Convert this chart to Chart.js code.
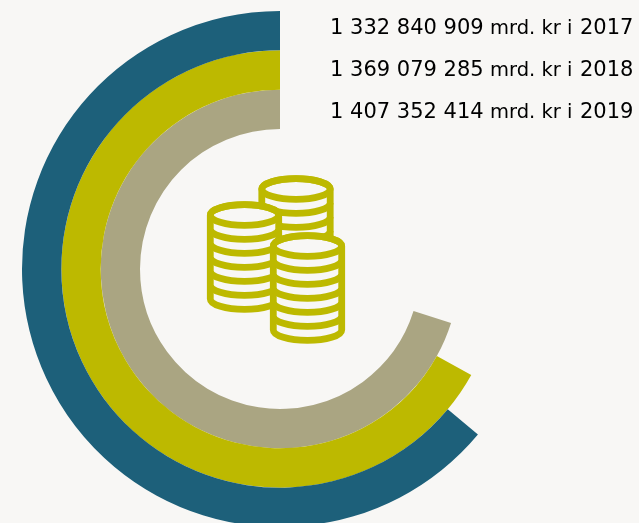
<!DOCTYPE html>
<html><head><meta charset="utf-8">
<style>html,body{margin:0;padding:0;background:#f8f7f5;overflow:hidden;width:639px;height:523px}
#w{position:relative;width:639px;height:538px}</style>
<script src="https://cdn.jsdelivr.net/npm/chart.js@4"></script></head>
<body><div id="w"><canvas id="c" width="639" height="538"></canvas></div>
<script>
const years=['2017','2018','2019'];
const amounts=['1 332 840 909','1 369 079 285','1 407 352 414'];
const unit='mrd. kr i';
// swept angle of each ring in degrees
const sweepDegrees=[230.1,241,252.5];
const ringColors=['#1d607a','#bdb900','#aaa582'];
const coinColor='#bdb900';
const coinFace='#f8f7f5';

function stack(ctx,cx,cy,n){
  const rx=34.2,ry=10.4,st=14,by=cy+n*st;
  ctx.beginPath();
  ctx.ellipse(cx,cy,rx,ry,0,Math.PI,2*Math.PI);
  ctx.lineTo(cx+rx,by);
  ctx.ellipse(cx,by,rx,ry,0,0,Math.PI);
  ctx.closePath();
  ctx.fillStyle=coinFace;ctx.fill();ctx.stroke();
  ctx.beginPath();ctx.ellipse(cx,cy,rx,ry,0,0,2*Math.PI);ctx.stroke();
  for(let k=1;k<n;k++){
    ctx.beginPath();ctx.ellipse(cx,cy+k*st,rx,ry,0,0,Math.PI);ctx.stroke();
  }
}
const decor={id:'decor',afterDraw(ch){
  const ctx=ch.ctx;ctx.save();
  ctx.strokeStyle=coinColor;ctx.lineWidth=6.8;
  stack(ctx,296,189,4);
  stack(ctx,244.5,215,6);
  stack(ctx,307.5,246,6);
  ctx.fillStyle='#000000';
  ctx.textBaseline='alphabetic';
  years.forEach((y,i)=>{
    const b=34.2+i*41.9;
    ctx.font='21px "DejaVu Sans"';
    ctx.fillText(amounts[i],330,b);
    ctx.fillText(y,580,b);
    ctx.font='19.5px "DejaVu Sans"';
    ctx.fillText(unit,490,b);
  });
  ctx.restore();
}};
new Chart(document.getElementById('c'),{
  type:'doughnut',
  data:{labels:['','beløp'],datasets:years.map((y,i)=>({
    label:y,
    data:[360-sweepDegrees[i],sweepDegrees[i]],
    backgroundColor:['rgba(0,0,0,0)',ringColors[i]],
    borderWidth:0
  }))},
  options:{responsive:false,animation:false,cutout:140,
    layout:{padding:{left:22,right:101,top:11,bottom:11}},
    plugins:{legend:{display:false},tooltip:{enabled:false}}},
  plugins:[decor]
});
</script></body></html>
